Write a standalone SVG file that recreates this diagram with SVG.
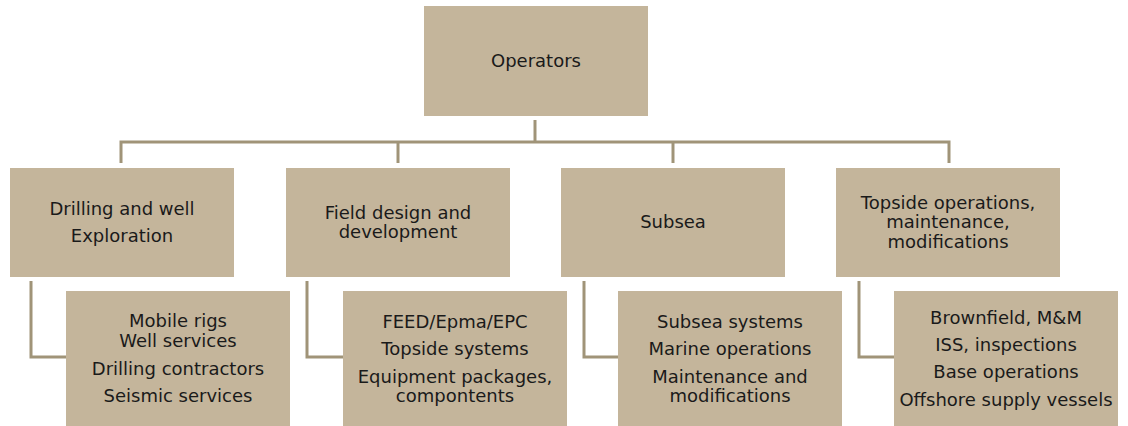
<svg xmlns="http://www.w3.org/2000/svg" width="1128" height="426" viewBox="0 0 1128 426">
  <style>
    .box { fill: #c4b59b; }
    .lbl { font-family: "DejaVu Sans", Verdana, sans-serif; font-size: 18px; fill: #1a1a1a; text-anchor: middle; }
    .wire { fill: none; stroke: #a09478; stroke-width: 3; }
  </style>
  <rect width="1128" height="426" fill="#ffffff"/>

  <g id="connectors">
    <path class="wire" d="M535 120 V142"/>
    <path class="wire" d="M121 163 V142 H949 V163"/>
    <path class="wire" d="M398 142 V163"/>
    <path class="wire" d="M673 142 V163"/>
    <path class="wire" d="M31 281 V357 H66"/>
    <path class="wire" d="M307 281 V357 H343"/>
    <path class="wire" d="M584 281 V357 H618"/>
    <path class="wire" d="M859 281 V357 H894"/>
  </g>

  <g id="operators">
    <rect class="box" x="424" y="6" width="224" height="110"/>
    <text class="lbl" x="536" y="67">Operators</text>
  </g>

  <g id="drilling">
    <rect class="box" x="10" y="168" width="224" height="109"/>
    <text class="lbl" x="122" y="215">Drilling and well</text>
    <text class="lbl" x="122" y="242">Exploration</text>
  </g>
  <g id="field">
    <rect class="box" x="286" y="168" width="224" height="109"/>
    <text class="lbl" x="398" y="219">Field design and</text>
    <text class="lbl" x="398" y="238">development</text>
  </g>
  <g id="subsea">
    <rect class="box" x="561" y="168" width="224" height="109"/>
    <text class="lbl" x="673" y="228">Subsea</text>
  </g>
  <g id="topside">
    <rect class="box" x="836" y="168" width="224" height="109"/>
    <text class="lbl" x="948" y="209">Topside operations,</text>
    <text class="lbl" x="948" y="228">maintenance,</text>
    <text class="lbl" x="948" y="248">modifications</text>
  </g>

  <g id="drilling-services">
    <rect class="box" x="66" y="291" width="224" height="135"/>
    <text class="lbl" x="178" y="327">Mobile rigs</text>
    <text class="lbl" x="178" y="347">Well services</text>
    <text class="lbl" x="178" y="375">Drilling contractors</text>
    <text class="lbl" x="178" y="402">Seismic services</text>
  </g>
  <g id="field-services">
    <rect class="box" x="343" y="291" width="224" height="135"/>
    <text class="lbl" x="455" y="328">FEED/Epma/EPC</text>
    <text class="lbl" x="455" y="355">Topside systems</text>
    <text class="lbl" x="455" y="383">Equipment packages,</text>
    <text class="lbl" x="455" y="402">compontents</text>
  </g>
  <g id="subsea-services">
    <rect class="box" x="618" y="291" width="224" height="135"/>
    <text class="lbl" x="730" y="328">Subsea systems</text>
    <text class="lbl" x="730" y="355">Marine operations</text>
    <text class="lbl" x="730" y="383">Maintenance and</text>
    <text class="lbl" x="730" y="402">modifications</text>
  </g>
  <g id="topside-services">
    <rect class="box" x="894" y="291" width="224" height="135"/>
    <text class="lbl" x="1006" y="324">Brownfield, M&amp;M</text>
    <text class="lbl" x="1006" y="351">ISS, inspections</text>
    <text class="lbl" x="1006" y="378">Base operations</text>
    <text class="lbl" x="1006" y="406">Offshore supply vessels</text>
  </g>
</svg>
